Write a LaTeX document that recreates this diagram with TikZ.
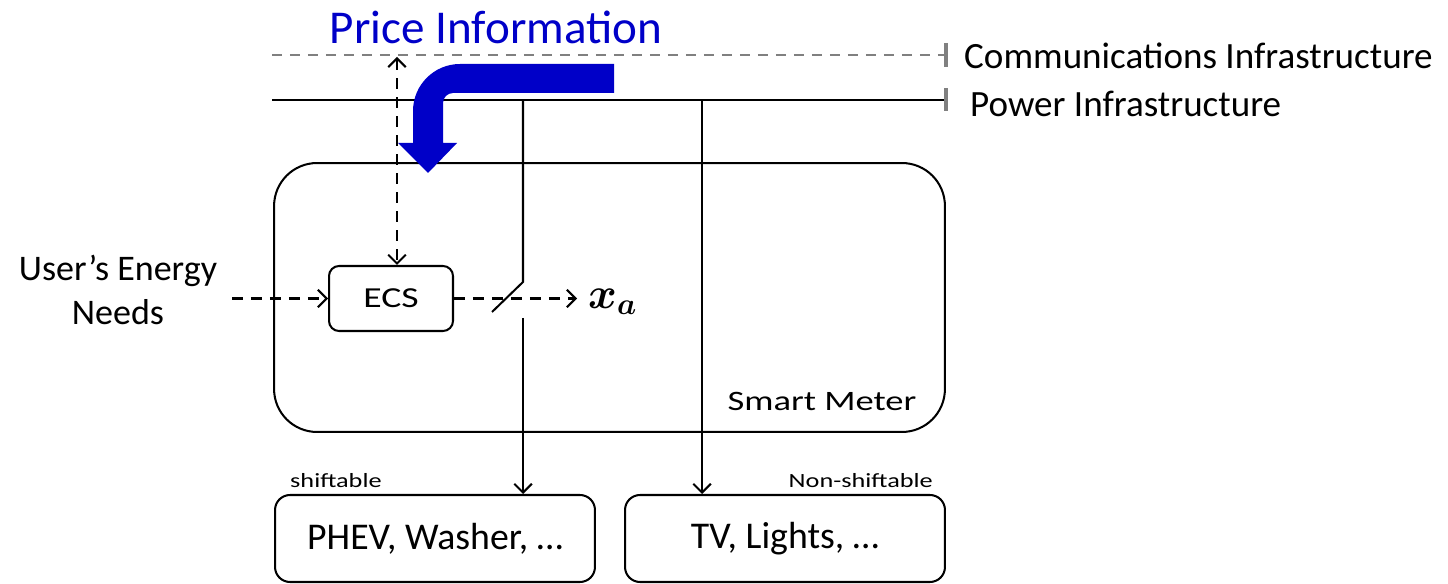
\documentclass[tikz,border=0pt]{standalone}
\usepackage{bm}
\usepackage{fontspec}
\setmainfont{Carlito}
\newfontfamily\widefont[FakeStretch=1.3]{Carlito}
\usetikzlibrary{arrows.meta}
\definecolor{priceblue}{RGB}{0,0,200}
\definecolor{commgray}{RGB}{128,128,128}
\tikzset{
  wire/.style={line width=1.15pt, black},
  commline/.style={line width=1.7pt, commgray, dash pattern=on 0.2cm off 0.16cm},
  endtick/.style={line width=1.8pt, commgray},
  sigline/.style={line width=1.25pt, black, dash pattern=on 0.22cm off 0.16cm},
  barb/.style={-{Straight Barb[length=5pt,width=10pt,line width=1.15pt]}},
  meterbox/.style={draw, line width=1.15pt, rounded corners=0.86cm,
    minimum width=13.42cm, minimum height=5.38cm},
  ecsbox/.style={draw, line width=1.15pt, rounded corners=0.2cm,
    minimum width=2.48cm, minimum height=1.3cm, font=\widefont\fontsize{16.5}{18}\selectfont},
  loadbox/.style={draw, line width=1.15pt, rounded corners=0.3cm,
    minimum width=6.4cm, minimum height=1.74cm, font=\fontsize{21.5}{24}\selectfont},
  legendtext/.style={anchor=west, font=\fontsize{21.1}{24}\selectfont},
  smalltext/.style={font=\widefont\fontsize{11.5}{13}\selectfont},
}
\begin{document}
\begin{tikzpicture}[x=0.02cm, y=-0.02cm]
\useasboundingbox (0,0) rectangle (1448,584);

% infrastructure lines with their end ticks
\coordinate (cL) at (272,55);
\coordinate (cR) at (946,55);
\coordinate (pL) at (272,100);
\coordinate (pR) at (946,100);
\draw[commline] (cL) -- (cR);
\draw[wire] (pL) -- (pR);
\draw[endtick] ([yshift=0.24cm]cR) -- ([yshift=-0.24cm]cR);
\draw[endtick] ([yshift=0.23cm]pR) -- ([yshift=-0.23cm]pR);
\node[legendtext] (commlbl) at (958,56) {Communications Infrastructure};
\node[legendtext] (powlbl) at (964,104) {Power Infrastructure};

% smart meter and the controller inside it
\node[meterbox] (sm) at (609.5,297.5) {};
\node[smalltext, font=\widefont\fontsize{16}{18}\selectfont] (smlbl) at (822,401) {Smart Meter};
\node[ecsbox] (ecs) at (391,298.5) {ECS};

% appliance groups
\node[loadbox] (shift) at (435,538.5) {PHEV, Washer, \dots};
\node[loadbox] (nonshift) at (785,538.5) {TV, Lights, \dots};
\node[smalltext, anchor=south west] (shiftlbl) at (284,494) {shiftable};
\node[smalltext, anchor=south east] (nonshiftlbl) at (939,494) {Non-shiftable};

% communication between controller and network
\coordinate (cTap) at (397,55);
\draw[sigline, {Straight Barb[length=5pt,width=10pt,line width=1.15pt]}-{Straight Barb[length=5pt,width=10pt,line width=1.15pt]}]
  ([yshift=-0.04cm]cTap) -- (cTap |- ecs.north);

% user input and control output
\node[font=\fontsize{20.5}{25}\selectfont, align=center] (user) at (118,290) {User’s Energy\\Needs};
\coordinate (uin) at (232,298.5);
\draw[sigline, barb] (uin) -- (ecs.west);
\coordinate (xout) at (577,298.5);
\draw[sigline, barb] (ecs.east) -- (xout);
\node[anchor=west, font=\fontsize{23}{25}\selectfont] (xa) at (582,302) {$\bm{x_a}$};

% power feeds: shiftable branch through the switch, fixed branch direct
\coordinate (b1) at (523,100);
\coordinate (sw1) at (523,282);
\coordinate (sw2) at (492,312);
\coordinate (sw3) at (523,318);
\draw[wire] (b1) -- (sw1) -- (sw2);
\draw[wire, barb] (sw3) -- (sw3 |- shift.north);
\coordinate (b2) at (702,100);
\draw[wire, barb] (b2) -- (b2 |- nonshift.north);

% price signal
\node[text=priceblue, font=\fontsize{26.8}{30}\selectfont] (price) at (496,27) {Price Information};
\fill[priceblue] (614,64) -- (460,64) arc[start angle=90, end angle=180, radius=0.94cm]
  -- (413,143) -- (398,143) -- (428,173) -- (457,143) -- (443,143) -- (443,103)
  arc[start angle=180, end angle=90, radius=0.2cm] -- (614,93) -- cycle;
\end{tikzpicture}
\end{document}
